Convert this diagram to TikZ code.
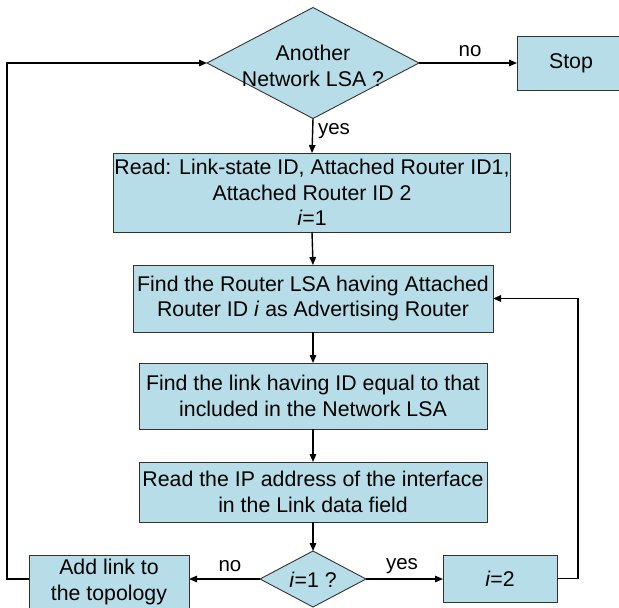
\documentclass[tikz,border=0pt]{standalone}
\usepackage{fontspec}
\setmainfont{Liberation Sans}
\usetikzlibrary{shapes.geometric,arrows.meta}
\definecolor{boxfill}{RGB}{183,222,232}
\definecolor{boxline}{RGB}{50,50,50}
\tikzset{
  every node/.style={font=\fontsize{21.3}{25.5}\selectfont, inner sep=0pt, outer sep=0pt},
  stepbox/.style={draw=boxline, line width=0.9pt, fill=boxfill, rectangle, align=center},
  decision/.style={draw=boxline, line width=0.9pt, fill=boxfill, diamond},
  caption/.style={align=center},
  flow/.style={line width=1.4pt, -{Triangle[length=8pt,width=6.5pt]}},
  plain/.style={line width=1.4pt},
  lbl/.style={font=\fontsize{20.5}{24}\selectfont}
}
\begin{document}
\begin{tikzpicture}[x=1pt,y=-1pt]
\useasboundingbox (0,0) rectangle (619,608);

% decisions
\node[decision, minimum width=212pt, minimum height=111pt] (q1) at (313,63) {};
\node[caption] (q1t) at (313,66) {Another\\Network LSA ?};
\node[decision, minimum width=106pt, minimum height=56pt] (q2) at (313,579) {};
\node[caption] (q2t) at (313,580) {\textit{i}=1 ?};

% process boxes
\node[stepbox, minimum width=108pt, minimum height=54pt] (stop) at (571,63) {Stop};
\node[stepbox, minimum width=397pt, minimum height=79pt] (read) at (312,192.5)
  {Read: Link-state ID, Attached Router ID1,\\Attached Router ID 2\\\textit{i}=1};
\node[stepbox, minimum width=360pt, minimum height=67pt] (router) at (313,298.5)
  {Find the Router LSA having Attached\\Router ID \textit{i} as Advertising Router};
\node[stepbox, minimum width=348pt, minimum height=66pt] (link) at (313,396)
  {Find the link having ID equal to that\\included in the Network LSA};
\node[stepbox, minimum width=348pt, minimum height=60pt] (ip) at (313,492)
  {Read the IP address of the interface\\in the Link data field};
\node[stepbox, minimum width=160pt, minimum height=54pt] (add) at (109,582)
  {Add link to\\the topology};
\node[stepbox, minimum width=114pt, minimum height=47pt] (two) at (500,578.5)
  {\textit{i}=2};

% loop corners
\coordinate (lc) at (7,579);
\coordinate (rc) at (578,579);

% connectors
\draw[flow] (q1.east) -- (stop.west);
\draw[flow] (q1.south) -- (read.north);
\draw[flow] (read.south) -- (router.north);
\draw[flow] (router.south) -- (link.north);
\draw[flow] (link.south) -- (ip.north);
\draw[flow] (ip.south) -- (q2.north);
\draw[flow] (q2.west) -- (q2.west -| add.east);
\draw[flow] (q2.east) -- (q2.east -| two.west);
\draw[flow] (two.east) -- (two.east -| rc) |- (router.east);
\draw[flow] (add.west |- lc) -- (lc) |- (q1.west);

% branch labels
\node[lbl] (lno1) at (470,51) {no};
\node[lbl, anchor=west] (lyes1) at (318,131) {yes};
\node[lbl] (lno2) at (230,566) {no};
\node[lbl] (lyes2) at (402,566) {yes};
\end{tikzpicture}
\end{document}
